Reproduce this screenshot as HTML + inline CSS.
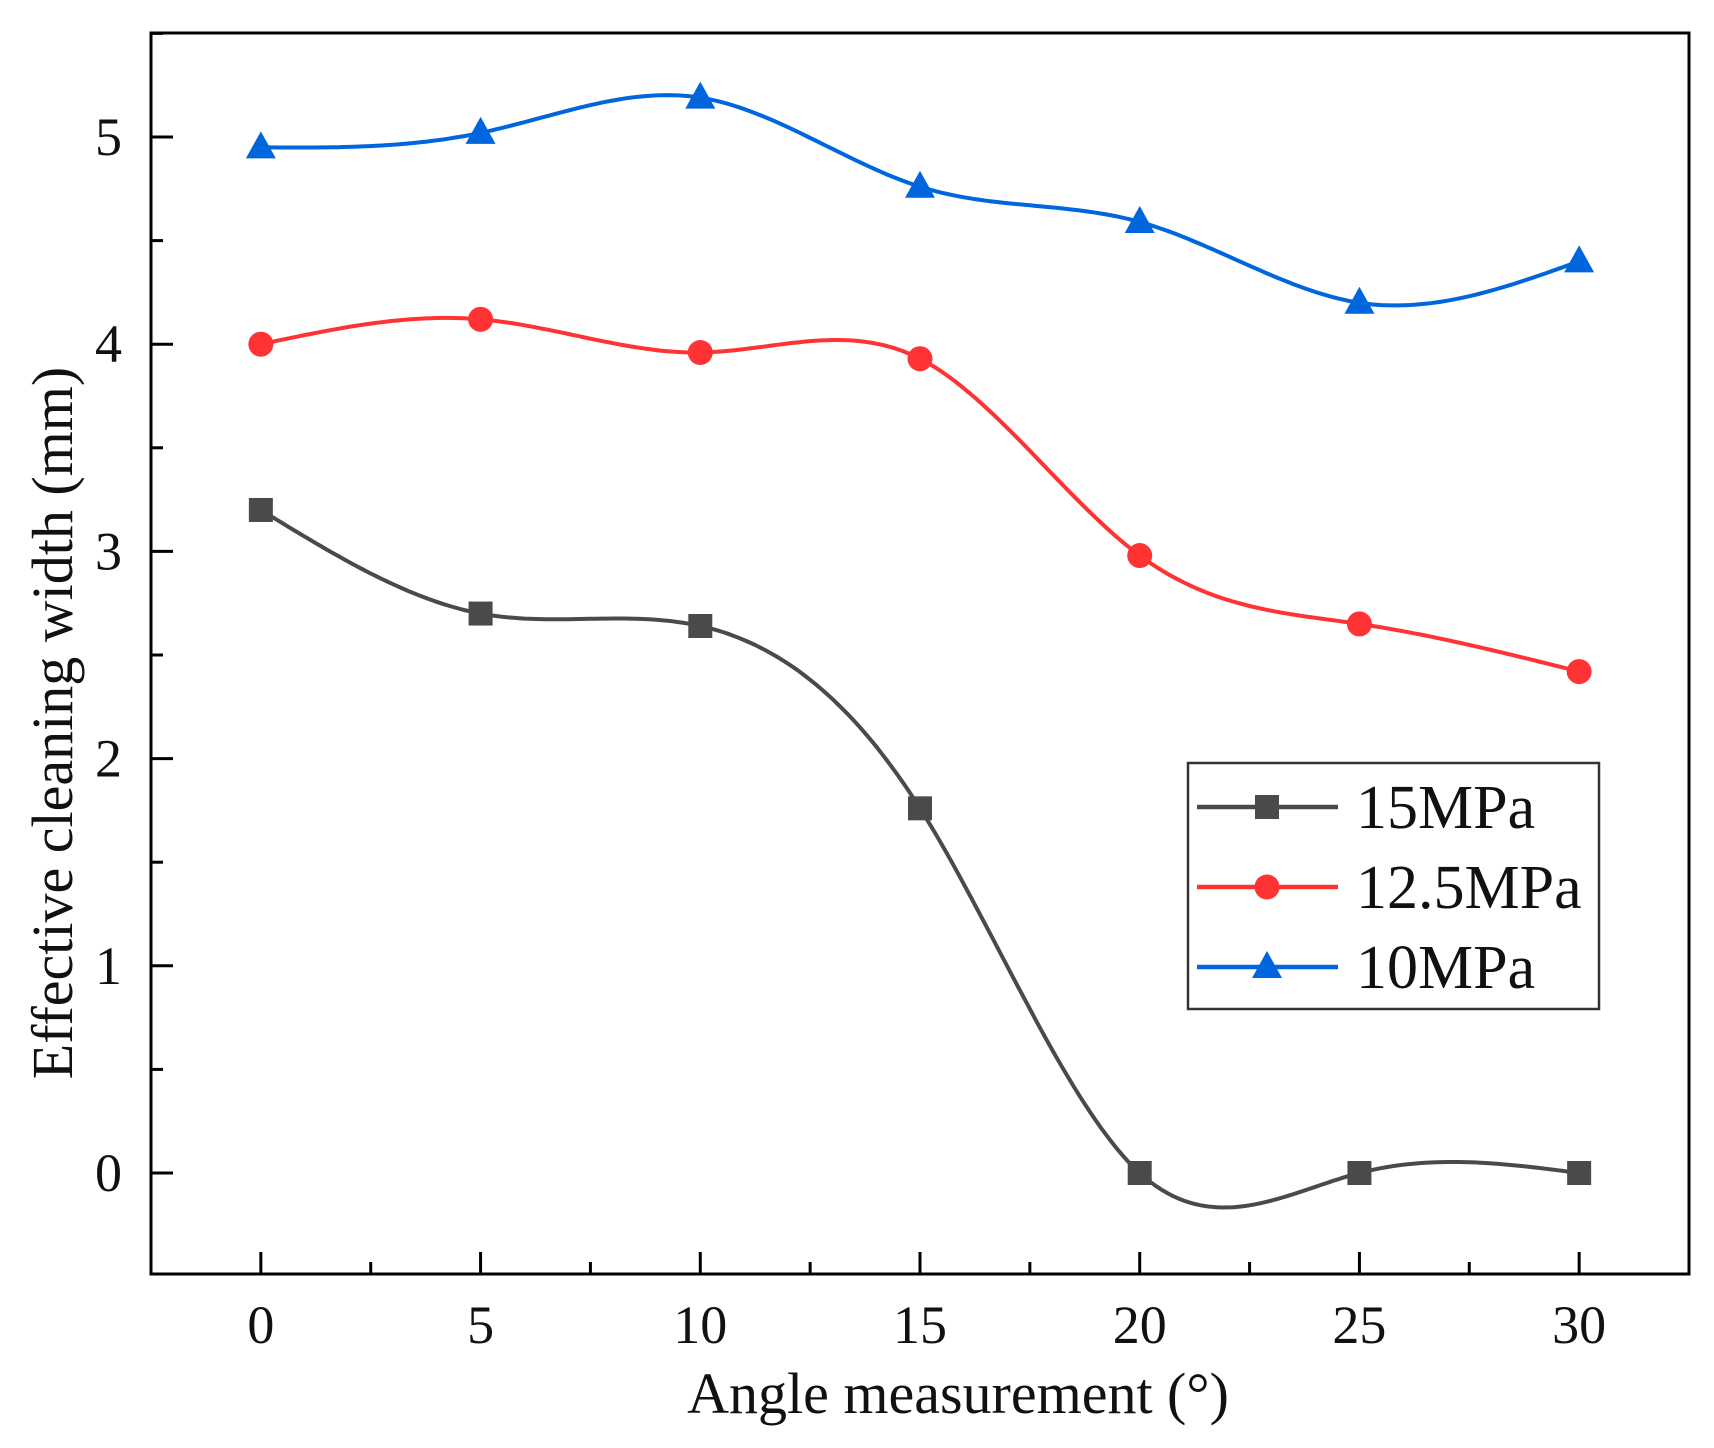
<!DOCTYPE html>
<html><head><meta charset="utf-8">
<style>
html,body{margin:0;padding:0;background:#fff;}
svg{display:block;font-family:"Liberation Serif",serif;}
</style></head>
<body>
<svg id="chart" width="1714" height="1448" viewBox="0 0 1714 1448">
<g id="plot"></g>
</svg>
<script>
const xCategories = [0, 5, 10, 15, 20, 25, 30];
const series15 = [3.2, 2.7, 2.64, 1.76, 0, 0, 0];
const series125 = [4.0, 4.12, 3.96, 3.93, 2.98, 2.65, 2.42];
const series10 = [4.95, 5.02, 5.19, 4.76, 4.59, 4.2, 4.4];
const xTickLabels = ["0", "5", "10", "15", "20", "25", "30"];
const yTickValues = [0, 1, 2, 3, 4, 5];
const seriesNames = ["15MPa", "12.5MPa", "10MPa"];

const NS = "http://www.w3.org/2000/svg";
const L = 151, R = 1689, T = 33, B = 1274;
const xMin = -2.5, xMax = 32.5;
function xs(v){ return L + (v - xMin) / (xMax - xMin) * (R - L); }
function ys(v){ return 1173 - v * 207.2; }
const g = document.getElementById('plot');
function el(tag, attrs, parent){ const e = document.createElementNS(NS, tag); for (const k in attrs) e.setAttribute(k, attrs[k]); (parent||g).appendChild(e); return e; }

const frame = el('rect', {x:L, y:T, width:R-L, height:B-T, fill:'none', stroke:'#000', 'stroke-width':3});



for (let v = 0; v <= 30; v += 2.5) {
  const major = (v % 5 === 0);
  const t = el('line', {x1:xs(v), x2:xs(v), y1:B, y2:B-(major?22:12), stroke:'#000', 'stroke-width':3});
  
  
}
xCategories.forEach((v, i) => {
  const t = el('text', {x:xs(v), y:1343, 'text-anchor':'middle', 'font-size':54, fill:'#111'});
  t.textContent = xTickLabels[i];
  
  
});
for (let v = -0.5; v <= 5.5; v += 0.5) {
  const major = Math.abs(v - Math.round(v)) < 1e-6;
  if (ys(v) > B || ys(v) < T) continue;
  const t = el('line', {x1:L, x2:L+(major?22:12), y1:ys(v), y2:ys(v), stroke:'#000', 'stroke-width':3});
  
  
}
yTickValues.forEach(v => {
  const t = el('text', {x:122, y:ys(v)+18, 'text-anchor':'end', 'font-size':54, fill:'#111'});
  t.textContent = String(v);
  
  
});
const xt = el('text', {x:958, y:1413, 'text-anchor':'middle', 'font-size':58, fill:'#111'});
xt.textContent = 'Angle measurement (°)';


const yt = el('text', {x:0, y:0, 'text-anchor':'middle', 'font-size':58, fill:'#111', transform:'translate(72,723) rotate(-90)'});
yt.textContent = 'Effective cleaning width (mm)';



function spline(xv, yv){
  const n = xv.length, h = [], a = [], l = [1], mu = [0], z = [0], c = new Array(n).fill(0), b = [], d = [];
  for (let i=0;i<n-1;i++) h[i] = xv[i+1]-xv[i];
  for (let i=1;i<n-1;i++) a[i] = 3/h[i]*(yv[i+1]-yv[i]) - 3/h[i-1]*(yv[i]-yv[i-1]);
  for (let i=1;i<n-1;i++){ l[i] = 2*(xv[i+1]-xv[i-1]) - h[i-1]*mu[i-1]; mu[i] = h[i]/l[i]; z[i] = (a[i]-h[i-1]*z[i-1])/l[i]; }
  l[n-1]=1; z[n-1]=0;
  for (let j=n-2;j>=0;j--){ c[j] = z[j]-mu[j]*c[j+1]; b[j] = (yv[j+1]-yv[j])/h[j] - h[j]*(c[j+1]+2*c[j])/3; d[j] = (c[j+1]-c[j])/(3*h[j]); }
  const pts = [];
  for (let i=0;i<n-1;i++){
    for (let s=0;s<=40;s++){
      const dx = h[i]*s/40, x = xv[i]+dx;
      pts.push([xs(x), ys(yv[i]+b[i]*dx+c[i]*dx*dx+d[i]*dx*dx*dx)]);
    }
  }
  return 'M' + pts.map(p => p[0].toFixed(1)+','+p[1].toFixed(1)).join('L');
}
function marker(type, cx, cy, color, name){
  let m;
  if (type === 'square') m = el('rect', {x:cx-12, y:cy-12, width:24, height:24, fill:color});
  else if (type === 'circle') m = el('circle', {cx:cx, cy:cy, r:12.5, fill:color});
  else m = el('polygon', {points:`${cx},${cy-16} ${cx-15},${cy+11} ${cx+15},${cy+11}`, fill:color});
  
  
}
const defs = [
  {vals: series15, color:'#4a4a4a', type:'square', key:'15mpa'},
  {vals: series125, color:'#ff3333', type:'circle', key:'12-5mpa'},
  {vals: series10, color:'#0066dd', type:'triangle', key:'10mpa'}
];
defs.forEach(s => {
  const p = el('path', {d: spline(xCategories, s.vals), fill:'none', stroke:s.color, 'stroke-width':4});
  
  
  xCategories.forEach((x, i) => marker(s.type, xs(x), ys(s.vals[i]), s.color, 'point-' + s.key));
});

const lg = el('g', {});


el('rect', {x:1188, y:763, width:411, height:246, fill:'#fff', stroke:'#333', 'stroke-width':2.5}, lg);
const ly = [807, 887, 967];
defs.forEach((s, i) => {
  const ln = el('line', {x1:1197, x2:1338, y1:ly[i], y2:ly[i], stroke:s.color, 'stroke-width':4.5}, lg);
  
  
  marker(s.type, 1267, ly[i], s.color, 'legend-marker');
  const t = el('text', {x:1356, y:ly[i]+21, 'font-size':62, fill:'#111'}, lg);
  t.textContent = seriesNames[i];
  
  
});
</script>
</body></html>
